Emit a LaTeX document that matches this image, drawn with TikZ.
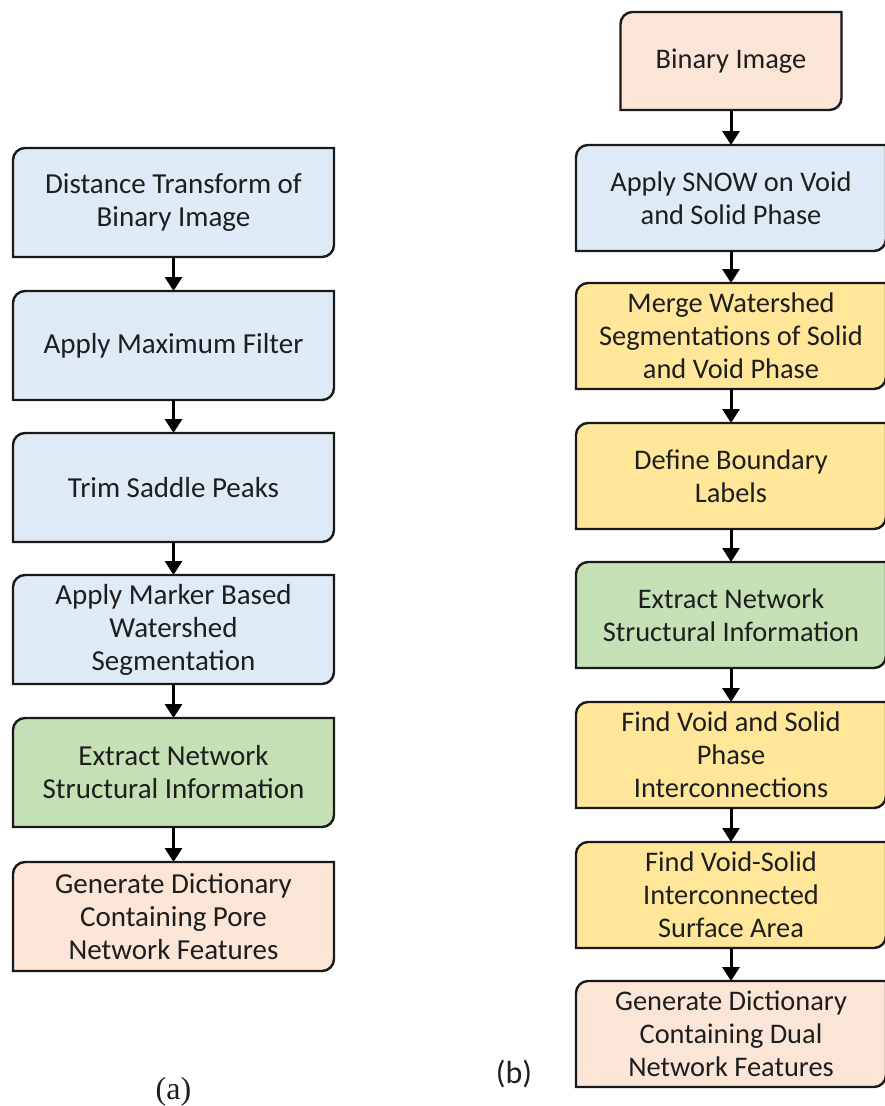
\documentclass[tikz,border=0pt]{standalone}
\usepackage{fontspec}
\setmainfont{Carlito}
\newfontfamily\seriffont{Liberation Serif}
\usetikzlibrary{calc,arrows.meta}
\pgfdeclarelayer{background}
\pgfsetlayers{background,main}
\definecolor{cblue}{HTML}{DEEBF7}
\definecolor{cpeach}{HTML}{FBE5D6}
\definecolor{cyellow}{HTML}{FFE699}
\definecolor{cgreen}{HTML}{C5E0B4}
\definecolor{ctext}{HTML}{1E1E1E}
\tikzset{
  fbox/.style={draw=none, outer sep=0pt, inner sep=0pt, align=center, text=ctext},
  lbox/.style={fbox, minimum width=321pt, minimum height=109pt, font=\fontsize{29}{33}\selectfont},
  rbox/.style={fbox, minimum width=310pt, minimum height=106pt, font=\fontsize{28.4}{33}\selectfont},
  conn/.style={line width=3pt, draw=black, -{Triangle[width=17pt,length=14pt]}},
  boxline/.style={line width=2.4pt, draw=black!90},
}
\newcommand\bpath[1]{(#1.south west) -- ($(#1.north west)+(0,12)$) .. controls ($(#1.north west)+(0,5.4)$) and ($(#1.north west)+(5.4,0)$) .. ($(#1.north west)+(12,0)$) -- (#1.north east) -- ($(#1.south east)+(0,-12)$) .. controls ($(#1.south east)+(0,-5.4)$) and ($(#1.south east)+(-5.4,0)$) .. ($(#1.south east)+(-12,0)$) -- cycle}
\newcommand\shapebox[2]{%
  \foreach \s in {1,2,3,4,5,6}{\fill[black, opacity=0.1, xshift=0.7*\s pt, yshift=-1.2*\s pt] \bpath{#1};}
  \filldraw[boxline, fill=#2] \bpath{#1};}
\begin{document}
\begin{tikzpicture}[x=1pt, y=-1pt]
\useasboundingbox (0,0) rectangle (885,1106);
% left column
\node[lbox] (a1) at (173.5,202.5) {Distance Transform of\\Binary Image};
\node[lbox] (a2) at (173.5,345.5) {Apply Maximum Filter};
\node[lbox] (a3) at (173.5,487.5) {Trim Saddle Peaks};
\node[lbox] (a4) at (173.5,629.5) {Apply Marker Based\\Watershed\\Segmentation};
\node[lbox] (a5) at (173.5,772.5) {Extract Network\\Structural Information};
\node[lbox] (a6) at (173.5,916.5) {Generate Dictionary\\Containing Pore\\Network Features};
\node[font=\seriffont\fontsize{32}{34}\selectfont, text=ctext] (la) at (173.5,1092) {(a)};
% right column
\node[rbox, minimum width=221pt, minimum height=98pt] (b0) at (731,61) {Binary Image};
\node[rbox] (b1) at (731,198) {Apply SNOW on Void\\and Solid Phase};
\node[rbox] (b2) at (731,336) {Merge Watershed\\Segmentations of Solid\\and Void Phase};
\node[rbox] (b3) at (731,476) {Define Boundary\\Labels};
\node[rbox] (b4) at (731,615) {Extract Network\\Structural Information};
\node[rbox] (b5) at (731,755) {Find Void and Solid\\Phase\\Interconnections};
\node[rbox] (b6) at (731,895) {Find Void-Solid\\Interconnected\\Surface Area};
\node[rbox] (b7) at (731,1034) {Generate Dictionary\\Containing Dual\\Network Features};
\node[font=\fontsize{32}{34}\selectfont, text=ctext] (lb) at (514,1074) {(b)};
\begin{pgfonlayer}{background}
\shapebox{a1}{cblue}
\shapebox{a2}{cblue}
\shapebox{a3}{cblue}
\shapebox{a4}{cblue}
\shapebox{a5}{cgreen}
\shapebox{a6}{cpeach}
\shapebox{b0}{cpeach}
\shapebox{b1}{cblue}
\shapebox{b2}{cyellow}
\shapebox{b3}{cyellow}
\shapebox{b4}{cgreen}
\shapebox{b5}{cyellow}
\shapebox{b6}{cyellow}
\shapebox{b7}{cpeach}
\end{pgfonlayer}
\foreach \p/\q in {a1/a2,a2/a3,a3/a4,a4/a5,a5/a6,b0/b1,b1/b2,b2/b3,b3/b4,b4/b5,b5/b6,b6/b7}
  \draw[conn] (\p.south) -- (\q.north);
\end{tikzpicture}
\end{document}
